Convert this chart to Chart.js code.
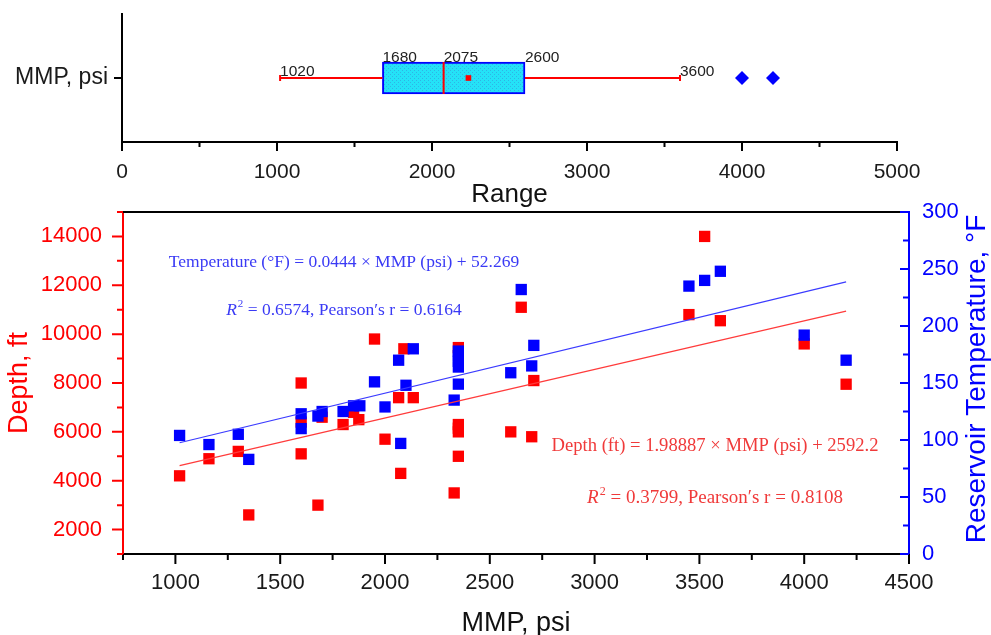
<!DOCTYPE html>
<html>
<head>
<meta charset="utf-8">
<script src="https://cdn.jsdelivr.net/npm/chart.js@4.4.0/dist/chart.umd.min.js"></script>
<style>
  html, body { margin: 0; padding: 0; background: #fff; }
  #wrap { position: relative; width: 991px; height: 635px; overflow: hidden; background: #fff; }
  #mmpChart { position: absolute; left: 0; top: 200px; }
  #rangeChart { position: absolute; left: 0; top: -4px; }
</style>
</head>
<body>
<div id="wrap">
  <canvas id="mmpChart" width="991" height="435"></canvas>
  <canvas id="rangeChart" width="991" height="214"></canvas>
</div>
<script>
const SANS = "'Liberation Sans', Arial, sans-serif";
const SERIF = "'Liberation Serif', 'Times New Roman', serif";

// ---- top panel: box plot of MMP, psi ----
const boxCategory = ["MMP, psi"];
const boxWhiskers = [1020, 3600];
const boxQuartiles = [1680, 2600];
const boxMedian = 2075;
const boxMean = 2235;
const boxOutliers = [4000, 4200];
const boxNumbers = [1020, 1680, 2075, 2600, 3600];

// ---- bottom panel: depth and temperature vs MMP ----
const depthMmp = [1020, 1160, 1300, 1350, 1600, 1600, 1600, 1680, 1700, 1800, 1850, 1875, 1950, 2000, 2065, 2075, 2090, 2135,
                  2330, 2350, 2350, 2350, 2350, 2350, 2600, 2650, 2700, 2710, 3450, 3525, 3600, 4000, 4200];
const depthFt = [4200, 4900, 5200, 2600, 8000, 6400, 5100, 3000, 6600, 6300, 6800, 6500, 9800, 5700, 7400, 4300, 9400, 7400,
                 3500, 5000, 6000, 6150, 6300, 9450, 6000, 11100, 5800, 8100, 10800, 14000, 10550, 9600, 7950];
const tempMmp = [1020, 1160, 1300, 1350, 1600, 1600, 1680, 1700, 1800, 1850, 1880, 1950, 2000, 2065, 2075, 2100, 2135,
                 2330, 2350, 2350, 2350, 2350, 2350, 2600, 2650, 2700, 2710, 3450, 3525, 3600, 4000, 4200];
const tempF = [104, 96, 105, 83, 123, 110, 121, 125, 125, 130, 130, 151, 129, 170, 97, 148, 180,
               135, 149, 164, 169, 174, 178, 159, 232, 165, 183, 235, 240, 248, 192, 170];

// fitted lines, read at both ends
const fitMmp = [1020, 4200];
const depthFit = [4620, 10945];
const tempFit = [97.6, 238.7];

const tempEquation = "Temperature (°F) = 0.0444 × MMP (psi) + 52.269";
const tempStats = " = 0.6574, Pearson′s r = 0.6164";
const depthEquation = "Depth (ft) = 1.98887 × MMP (psi) + 2592.2";
const depthStats = " = 0.3799, Pearson′s r = 0.8108";

function pts(xs, ys) {
    return xs.map((x, i) => ({ x: x, y: ys[i] }));
}

// fixed axis sizes, no extra room for half labels
function fixWidth(w) {
    return (s) => { s.width = w; s.paddingTop = 0; s.paddingBottom = 0; };
}
function fixHeight(h) {
    return (s) => { s.height = h; s.paddingLeft = 0; s.paddingRight = 0; };
}

// speckled cyan fill like the original box
function boxPattern() {
    const c = document.createElement("canvas");
    c.width = 4;
    c.height = 4;
    const g = c.getContext("2d");
    g.fillStyle = "#24e2f7";
    g.fillRect(0, 0, 4, 4);
    g.fillStyle = "#2fb4e6";
    g.fillRect(0, 0, 1, 1);
    g.fillRect(2, 2, 1, 1);
    return g.createPattern(c, "repeat");
}

// tick marks drawn by hand so minor ones can be shorter
function drawTicks(chart, id, color, majorLen, minorLen) {
    const s = chart.scales[id];
    const ctx = chart.ctx;
    ctx.save();
    ctx.strokeStyle = color;
    ctx.lineWidth = 2;
    ctx.beginPath();
    s.ticks.forEach((t) => {
        const p = s.getPixelForValue(t.value);
        const len = t.label !== "" ? majorLen : minorLen;
        if (s.position === "bottom") {
            ctx.moveTo(p, s.top);
            ctx.lineTo(p, s.top + len);
        } else if (s.position === "left") {
            ctx.moveTo(s.right, p);
            ctx.lineTo(s.right - len, p);
        } else {
            // right axis: ticks point into the plot
            ctx.moveTo(s.left, p);
            ctx.lineTo(s.left - len, p);
        }
    });
    ctx.stroke();
    ctx.restore();
}

function drawStats(ctx, text, cx, cy, size, color) {
    ctx.save();
    ctx.fillStyle = color;
    ctx.textBaseline = "middle";
    ctx.textAlign = "left";
    const fR = "italic " + size + "px " + SERIF;
    const f2 = Math.round(size * 0.65) + "px " + SERIF;
    const fT = size + "px " + SERIF;
    ctx.font = fR; const wR = ctx.measureText("R").width;
    ctx.font = f2; const w2 = ctx.measureText("2").width;
    ctx.font = fT; const wT = ctx.measureText(text).width;
    let x = cx - (wR + w2 + 1 + wT) / 2;
    ctx.font = fR; ctx.fillText("R", x, cy); x += wR + 1;
    ctx.font = f2; ctx.fillText("2", x, cy - size * 0.35); x += w2;
    ctx.font = fT; ctx.fillText(text, x, cy);
    ctx.restore();
}

const mmpDecor = {
    id: "mmpDecor",
    afterDraw(chart) {
        const ctx = chart.ctx;
        const a = chart.chartArea;
        // top frame line
        ctx.save();
        ctx.strokeStyle = "#000";
        ctx.lineWidth = 2;
        ctx.beginPath();
        ctx.moveTo(a.left, a.top);
        ctx.lineTo(a.right, a.top);
        ctx.stroke();
        ctx.restore();

        drawTicks(chart, "x", "#000", 10, 6);
        drawTicks(chart, "y", "#ff0000", 11, 6);
        drawTicks(chart, "y1", "#0000ff", 9, 6);

        // axis titles
        ctx.save();
        ctx.font = "27px " + SANS;
        ctx.textAlign = "center";
        ctx.fillStyle = "#111";
        ctx.textBaseline = "alphabetic";
        ctx.fillText("MMP, psi", (a.left + a.right) / 2, 431);
        ctx.textBaseline = "middle";
        ctx.fillStyle = "#ff0000";
        ctx.translate(20, (a.top + a.bottom) / 2);
        ctx.rotate(-Math.PI / 2);
        ctx.fillText("Depth, ft", 0, 0);
        ctx.restore();

        ctx.save();
        ctx.font = "28px " + SANS;
        ctx.textAlign = "center";
        ctx.textBaseline = "middle";
        ctx.fillStyle = "#0000ff";
        ctx.translate(977, (a.top + a.bottom) / 2 - 4);
        ctx.rotate(-Math.PI / 2);
        ctx.fillText("Reservoir Temperature, °F", 0, 0);
        ctx.restore();

        // regression equations
        ctx.save();
        ctx.textAlign = "center";
        ctx.textBaseline = "middle";
        ctx.font = "17.5px " + SERIF;
        ctx.fillStyle = "#3a3af5";
        ctx.fillText(tempEquation, 344, 62);
        ctx.font = "18.6px " + SERIF;
        ctx.fillStyle = "#f03a3a";
        ctx.fillText(depthEquation, 715, 246);
        ctx.restore();
        drawStats(ctx, tempStats, 344, 110, 17.5, "#3a3af5");
        drawStats(ctx, depthStats, 715, 298, 19, "#f03a3a");
    },
};

new Chart(document.getElementById("mmpChart"), {
    type: "scatter",
    data: {
        datasets: [
            {
                type: "line",
                data: pts(fitMmp, tempFit),
                yAxisID: "y1",
                borderColor: "#3b3bff",
                borderWidth: 1.2,
                pointRadius: 0,
                order: 0,
            },
            {
                type: "line",
                data: pts(fitMmp, depthFit),
                yAxisID: "y",
                borderColor: "#ff3b3b",
                borderWidth: 1.2,
                pointRadius: 0,
                order: 0,
            },
            {
                label: "Reservoir Temperature",
                data: pts(tempMmp, tempF),
                yAxisID: "y1",
                backgroundColor: "#0000ff",
                pointStyle: "rect",
                pointRadius: 8,
                borderWidth: 0,
                order: 1,
            },
            {
                label: "Depth",
                data: pts(depthMmp, depthFt),
                yAxisID: "y",
                backgroundColor: "#ff0000",
                pointStyle: "rect",
                pointRadius: 8,
                borderWidth: 0,
                order: 2,
            },
        ],
    },
    options: {
        responsive: false,
        animation: false,
        devicePixelRatio: 1,
        layout: { padding: { top: 12, left: 0, right: 0, bottom: 0 } },
        plugins: { legend: { display: false }, tooltip: { enabled: false } },
        scales: {
            x: {
                type: "linear",
                position: "bottom",
                min: 750,
                max: 4500,
                afterFit: fixHeight(81),
                grid: { display: false, drawTicks: false },
                border: { display: true, color: "#000", width: 2 },
                ticks: {
                    stepSize: 250,
                    autoSkip: false,
                    maxRotation: 0,
                    padding: 16,
                    color: "#1a1a1a",
                    font: { family: SANS, size: 22 },
                    callback: (v) => (v % 500 === 0 && v >= 1000 ? String(v) : ""),
                },
            },
            y: {
                type: "linear",
                position: "left",
                min: 1000,
                max: 15000,
                afterFit: fixWidth(123),
                grid: { display: false, drawTicks: false },
                border: { display: true, color: "#ff0000", width: 2 },
                ticks: {
                    stepSize: 1000,
                    autoSkip: false,
                    padding: 21,
                    color: "#ff0000",
                    font: { family: SANS, size: 22 },
                    callback: (v) => (v % 2000 === 0 ? String(v) : ""),
                },
            },
            y1: {
                type: "linear",
                position: "right",
                min: 0,
                max: 300,
                afterFit: fixWidth(82),
                grid: { display: false, drawTicks: false },
                border: { display: true, color: "#0000ff", width: 2 },
                ticks: {
                    stepSize: 25,
                    autoSkip: false,
                    padding: 13,
                    color: "#0000ff",
                    font: { family: SANS, size: 22 },
                    callback: (v) => (v % 50 === 0 ? String(v) : ""),
                },
            },
        },
    },
    plugins: [mmpDecor],
});

const rangeDecor = {
    id: "rangeDecor",
    afterDraw(chart) {
        const ctx = chart.ctx;
        const a = chart.chartArea;
        const xs = chart.scales.x;
        const yMid = chart.scales.y.getPixelForValue(1);
        drawTicks(chart, "x", "#000", 9, 5);
        drawTicks(chart, "y", "#000", 8, 5);

        ctx.save();
        ctx.font = "15.5px " + SANS;
        ctx.fillStyle = "#222";
        ctx.textAlign = "left";
        ctx.textBaseline = "alphabetic";
        boxNumbers.forEach((v) => {
            const onWhisker = boxWhiskers.includes(v);
            ctx.fillText(String(v), xs.getPixelForValue(v), onWhisker ? yMid - 2 : yMid - 16);
        });
        ctx.font = "26px " + SANS;
        ctx.textAlign = "center";
        ctx.fillStyle = "#111";
        ctx.fillText("Range", (a.left + a.right) / 2, 206);
        ctx.restore();
    },
};

new Chart(document.getElementById("rangeChart"), {
    type: "scatter",
    data: {
        datasets: [
            {
                type: "bar",
                indexAxis: "y",
                data: [{ x: boxQuartiles, y: 1 }],
                backgroundColor: boxPattern(),
                borderColor: "#0000ff",
                borderWidth: 2,
                borderSkipped: false,
                barThickness: 32,
                order: 5,
            },
            {
                type: "line",
                data: [{ x: boxWhiskers[0], y: 1 }, { x: boxQuartiles[0], y: 1 }],
                borderColor: "#ff0000",
                borderWidth: 2,
                pointRadius: 0,
                order: 4,
            },
            {
                type: "line",
                data: [{ x: boxQuartiles[1], y: 1 }, { x: boxWhiskers[1], y: 1 }],
                borderColor: "#ff0000",
                borderWidth: 2,
                pointRadius: 0,
                order: 4,
            },
            {
                // whisker end caps
                data: boxWhiskers.map((v) => ({ x: v, y: 1 })),
                pointStyle: "line",
                rotation: 90,
                pointRadius: 3,
                borderColor: "#ff0000",
                borderWidth: 2,
                order: 3,
            },
            {
                // median
                data: [{ x: boxMedian, y: 1 }],
                pointStyle: "line",
                rotation: 90,
                pointRadius: 16,
                borderColor: "#ff0000",
                borderWidth: 2,
                order: 1,
            },
            {
                data: [{ x: boxMean, y: 1 }],
                backgroundColor: "#ff0000",
                pointStyle: "rect",
                pointRadius: 4,
                borderWidth: 0,
                order: 0,
            },
            {
                data: boxOutliers.map((v) => ({ x: v, y: 1 })),
                backgroundColor: "#0000ff",
                pointStyle: "rectRot",
                pointRadius: 7,
                borderWidth: 0,
                order: 0,
            },
        ],
    },
    options: {
        responsive: false,
        animation: false,
        devicePixelRatio: 1,
        layout: { padding: { top: 8, left: 0, right: 94, bottom: 0 } },
        plugins: { legend: { display: false }, tooltip: { enabled: false } },
        scales: {
            x: {
                type: "linear",
                position: "bottom",
                min: 0,
                max: 5000,
                afterFit: fixHeight(68),
                grid: { display: false, drawTicks: false },
                border: { display: true, color: "#000", width: 2 },
                ticks: {
                    stepSize: 500,
                    autoSkip: false,
                    maxRotation: 0,
                    padding: 18,
                    color: "#1a1a1a",
                    font: { family: SANS, size: 21 },
                    callback: (v) => (v % 1000 === 0 ? String(v) : ""),
                },
            },
            y: {
                type: "linear",
                position: "left",
                min: 0,
                max: 2,
                afterFit: fixWidth(122),
                afterBuildTicks: (s) => { s.ticks = [{ value: 1 }]; },
                grid: { display: false, drawTicks: false },
                border: { display: true, color: "#000", width: 2 },
                ticks: {
                    padding: 14,
                    color: "#1a1a1a",
                    font: { family: SANS, size: 23 },
                    callback: (v, i) => boxCategory[i],
                },
            },
        },
    },
    plugins: [rangeDecor],
});
</script>
</body>
</html>
